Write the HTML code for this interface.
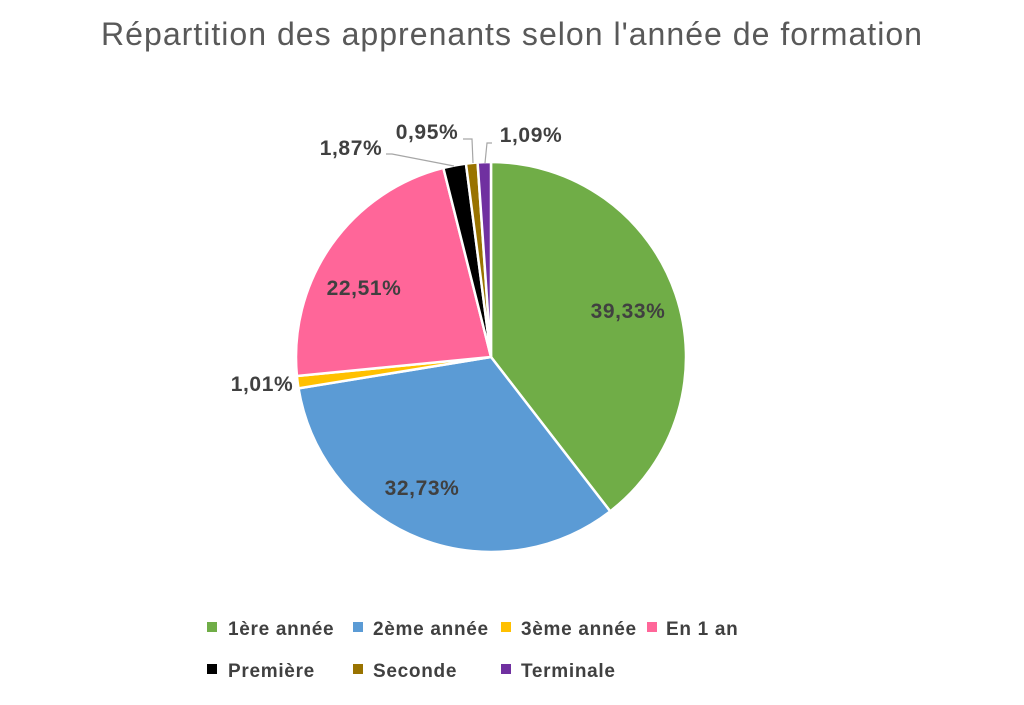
<!DOCTYPE html>
<html><head><meta charset="utf-8"><style>
body{margin:0;background:#fff;width:1024px;height:700px;overflow:hidden}
text{font-family:"Liberation Sans",sans-serif}
</style></head><body>
<svg id="s" width="1024" height="700" xmlns="http://www.w3.org/2000/svg">
<text x="512" y="45" text-anchor="middle" font-size="32" fill="#595959" letter-spacing="1" textLength="822" lengthAdjust="spacingAndGlyphs">Répartition des apprenants selon l'année de formation</text>
<g id="pie"></g>
<g stroke="#a6a6a6" stroke-width="1.2" fill="none">
<polyline points="386,154 392,154 454,166"/>
<polyline points="463,139 472,139 473,163"/>
<polyline points="492,143 487,143 485,163"/>
</g>
<g font-size="21" font-weight="bold" fill="#404040" text-anchor="middle" letter-spacing="0.6">
<text x="628" y="318">39,33%</text>
<text x="422" y="495">32,73%</text>
<text x="364" y="295">22,51%</text>
<text x="262" y="391">1,01%</text>
<text x="351" y="155">1,87%</text>
<text x="427" y="139">0,95%</text>
<text x="531" y="142">1,09%</text>
</g>
<g font-size="19" font-weight="bold" fill="#404040" letter-spacing="0.7">
<rect x="207" y="622" width="10" height="10" fill="#70ad47"/><text x="228" y="635">1ère année</text>
<rect x="353" y="622" width="10" height="10" fill="#5b9bd5"/><text x="373" y="635">2ème année</text>
<rect x="501" y="622" width="10" height="10" fill="#ffc000"/><text x="521" y="635">3ème année</text>
<rect x="647" y="622" width="10" height="10" fill="#ff6699"/><text x="666" y="635">En 1 an</text>
<rect x="207" y="664" width="10" height="10" fill="#000"/><text x="228" y="677">Première</text>
<rect x="353" y="664" width="10" height="10" fill="#997300"/><text x="373" y="677">Seconde</text>
<rect x="501" y="664" width="10" height="10" fill="#7030a0"/><text x="521" y="677">Terminale</text>
</g>
</svg>
<script>
var d=[[39.33,"#70ad47"],[32.73,"#5b9bd5"],[1.01,"#ffc000"],[22.51,"#ff6699"],[1.87,"#000000"],[0.95,"#997300"],[1.09,"#7030a0"]];
var tot=0;d.forEach(function(x){tot+=x[0]});
var cx=491,cy=357,r=195,a=0,h="";
d.forEach(function(x){var b=a+x[0]/tot*2*Math.PI;
var x1=cx+r*Math.sin(a),y1=cy-r*Math.cos(a),x2=cx+r*Math.sin(b),y2=cy-r*Math.cos(b);
h+='<path d="M'+cx+','+cy+' L'+x1+','+y1+' A'+r+','+r+' 0 '+((b-a)>Math.PI?1:0)+' 1 '+x2+','+y2+' Z" fill="'+x[1]+'" stroke="#fff" stroke-width="2.5"/>';a=b;});
document.getElementById("pie").innerHTML=h;
</script>
</body></html>
